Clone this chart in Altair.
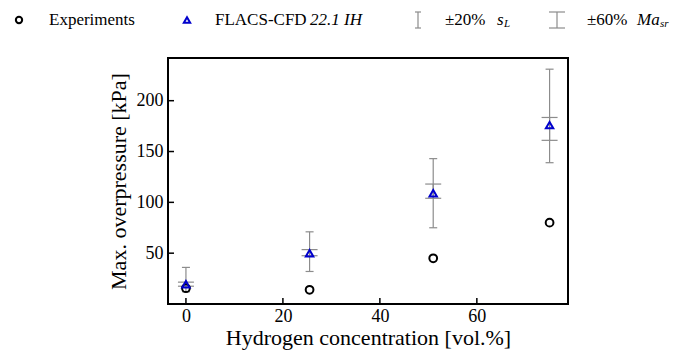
import altair as alt
import pandas as pd

# ---- data ----
h2_conc = [0, 25.5, 51, 75]
experiments = [15.5, 14, 45, 80]
flacs = [19.5, 50, 109, 176]
sl_low = [12, 32, 75, 139]
sl_high = [36, 71, 143, 231]
ma_low = [17.5, 47.5, 104, 161]
ma_high = [21.5, 53.5, 118, 183.5]
x_ticks = [0, 20, 40, 60]
y_ticks = [50, 100, 150, 200]

W, H = 400, 246
FONT = "Liberation Serif, DejaVu Serif, serif"
GREY = "#8c8c8c"
BLUE = "#0000cc"

df = pd.DataFrame({
    "x": h2_conc, "exp": experiments, "flacs": flacs,
    "sl_lo": sl_low, "sl_hi": sl_high, "ma_lo": ma_low, "ma_hi": ma_high,
})

xscale = alt.Scale(domain=[-3.7, 78.8], nice=False, zero=False)
yscale = alt.Scale(domain=[0, 242], nice=False, zero=False)

X = alt.X("x:Q", scale=xscale, axis=alt.Axis(
    title="Hydrogen concentration [vol.%]", values=x_ticks, tickSize=0,
    labelPadding=3, titlePadding=2, domain=False, grid=False,
    labelFont=FONT, titleFont=FONT))
Y = lambda f: alt.Y(f"{f}:Q", scale=yscale)

base = alt.Chart(df)

yaxis = alt.Axis(title="Max. overpressure [kPa]", values=y_ticks, tickSize=0,
                 labelPadding=5, titlePadding=6, domain=False, grid=False,
                 labelFont=FONT, titleFont=FONT)

sl_rule = base.mark_rule(color=GREY, strokeWidth=1.2).encode(
    x=X, y=alt.Y("sl_lo:Q", scale=yscale, axis=yaxis), y2="sl_hi:Q")
sl_cap_lo = base.mark_tick(color=GREY, orient="horizontal", size=8, thickness=1.2, opacity=1).encode(x=X, y=Y("sl_lo"))
sl_cap_hi = base.mark_tick(color=GREY, orient="horizontal", size=8, thickness=1.2, opacity=1).encode(x=X, y=Y("sl_hi"))
ma_rule = base.mark_rule(color=GREY, strokeWidth=1.2).encode(x=X, y=Y("ma_lo"), y2="ma_hi:Q")
ma_cap_lo = base.mark_tick(color=GREY, orient="horizontal", size=16, thickness=1.2, opacity=1).encode(x=X, y=Y("ma_lo"))
ma_cap_hi = base.mark_tick(color=GREY, orient="horizontal", size=16, thickness=1.2, opacity=1).encode(x=X, y=Y("ma_hi"))

circles = base.mark_point(shape="circle", filled=False, color="black", strokeWidth=2, size=60, opacity=1).encode(
    x=X, y=Y("exp"))
tris = base.mark_point(shape="triangle-up", filled=False, color=BLUE, strokeWidth=2, size=55, opacity=1).encode(
    x=X, y=Y("flacs"))

# inward ticks
xt = alt.Chart(pd.DataFrame({"x": x_ticks})).mark_rule(color="black", strokeWidth=1.5).encode(
    x=alt.X("x:Q", scale=xscale), y=alt.value(H), y2=alt.value(H - 6))
yt = alt.Chart(pd.DataFrame({"v": y_ticks})).mark_rule(color="black", strokeWidth=1.5).encode(
    y=alt.Y("v:Q", scale=yscale), x=alt.value(0), x2=alt.value(6))

# ---- manual legend above the plot ----
one = alt.Data(values=[{}])
LY = -38
leg = []
leg.append(alt.Chart(one).mark_point(shape="circle", filled=False, color="black", strokeWidth=2, size=40, opacity=1)
           .encode(x=alt.value(-149), y=alt.value(LY)))
leg.append(alt.Chart(one).mark_point(shape="triangle-up", filled=False, color=BLUE, strokeWidth=2, size=40, opacity=1)
           .encode(x=alt.value(19), y=alt.value(LY)))
# s_L symbol
leg.append(alt.Chart(one).mark_rule(color=GREY, strokeWidth=1.2)
           .encode(x=alt.value(250), y=alt.value(LY - 8), y2=alt.value(LY + 8)))
for dy in (-8, 8):
    leg.append(alt.Chart(one).mark_rule(color=GREY, strokeWidth=1.2)
               .encode(x=alt.value(247), x2=alt.value(253), y=alt.value(LY + dy)))
# Ma_sr symbol
leg.append(alt.Chart(one).mark_rule(color=GREY, strokeWidth=1.2)
           .encode(x=alt.value(389), y=alt.value(LY - 8), y2=alt.value(LY + 8)))
for dy in (-8, 8):
    leg.append(alt.Chart(one).mark_rule(color=GREY, strokeWidth=1.2)
               .encode(x=alt.value(381), x2=alt.value(397), y=alt.value(LY + dy)))

def txt(s, x, y=LY, size=17, style="normal", dy=0):
    return alt.Chart(one).mark_text(text=s, font=FONT, fontSize=size, fontStyle=style,
                                    align="left", baseline="middle", color="black", dy=dy).encode(
        x=alt.value(x), y=alt.value(y))

leg += [
    txt("Experiments", -119),
    txt("FLACS-CFD", 47),
    txt("22.1 IH", 142, style="italic"),
    txt("±20%", 277),
    txt("s", 329, style="italic"),
    txt("L", 336, size=11, style="italic", dy=4),
    txt("±60%", 419),
    txt("Ma", 469, style="italic"),
    txt("sr", 492, size=11, style="italic", dy=4),
]

chart = alt.layer(sl_rule, sl_cap_lo, sl_cap_hi, ma_rule, ma_cap_lo, ma_cap_hi,
                  circles, tris, xt, yt, *leg).properties(
    width=W, height=H,
    autosize=alt.AutoSizeParams(type="none"),
    padding={"left": 168, "top": 58, "right": 105, "bottom": 49},
    background="white",
).configure(font=FONT).configure_view(stroke="black", strokeWidth=2).configure_axis(
    labelFont=FONT, titleFont=FONT, labelFontSize=18, titleFontSize=22,
    titleFontWeight="normal", labelColor="black", titleColor="black",
)

chart.save("out.html", embed_options={"renderer": "svg", "actions": False})
